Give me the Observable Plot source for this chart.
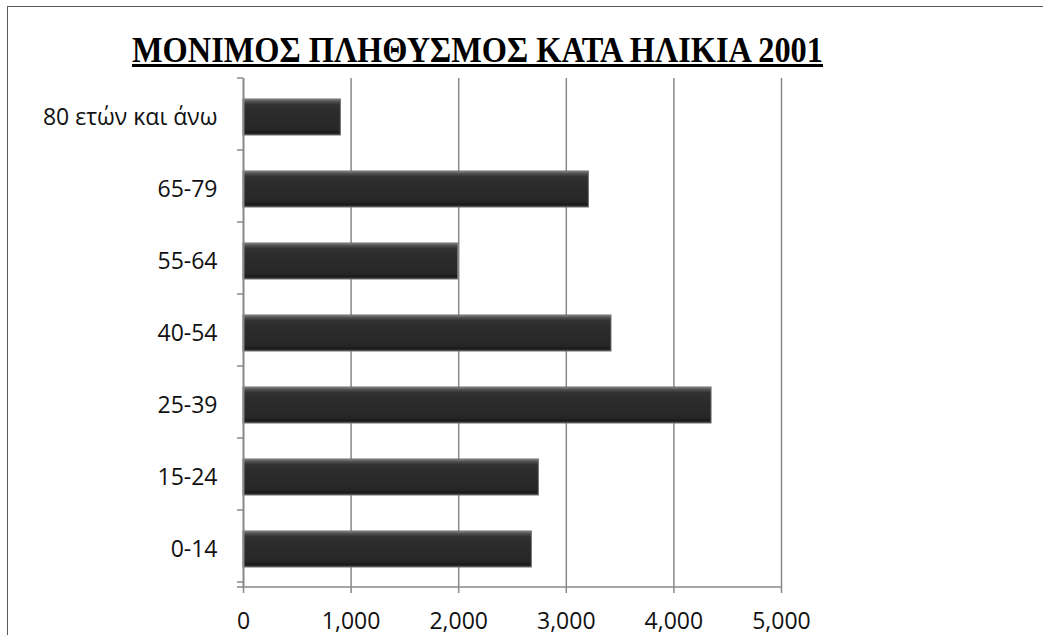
<!DOCTYPE html>
<html><head><meta charset="utf-8">
<script src="https://cdn.jsdelivr.net/npm/d3@7"></script>
<script src="https://cdn.jsdelivr.net/npm/@observablehq/plot@0.6"></script>
<style>
body{margin:0;background:#fff;}
#wrap{position:relative;width:1043px;height:635px;overflow:hidden;background:#fff;}
#border{position:absolute;left:7px;top:6px;width:1100px;height:700px;border:1px solid #5a5a5a;}
#title{position:absolute;left:132px;top:32px;white-space:nowrap;font-family:"Liberation Serif","Times New Roman",serif;font-weight:bold;font-size:36px;line-height:36px;transform-origin:0 0;color:#000;}
#uline{position:absolute;left:132px;top:64px;width:691px;height:3px;background:#000;}
#chart{position:absolute;left:0;top:70px;}
</style></head><body>
<div id="wrap"><div id="border"></div><div id="title"></div><div id="uline"></div><div id="chart"></div></div>
<script>
const titleText = "ΜΟΝΙΜΟΣ ΠΛΗΘΥΣΜΟΣ ΚΑΤΑ ΗΛΙΚΙΑ 2001";
const categories = ["0-14", "15-24", "25-39", "40-54", "55-64", "65-79", "80 ετών και άνω"];
const values = [2680, 2745, 4350, 3420, 1995, 3210, 905];
const xTicks = [0, 1000, 2000, 3000, 4000, 5000];

const data = categories.map((c, i) => ({category: c, value: values[i]}));

const t = document.getElementById("title");
t.textContent = titleText;
const w = t.getBoundingClientRect().width;
t.style.transform = `scaleX(${691 / w})`;

const chart = Plot.plot({
  width: 1043, height: 565,
  marginTop: 8, marginBottom: 48, marginLeft: 243, marginRight: 262,
  style: {fontFamily: "'Open Sans', sans-serif", fontSize: "23px", color: "#111", background: "transparent"},
  x: {domain: [0, 5000]},
  y: {domain: categories.slice().reverse(), paddingInner: 0.5, paddingOuter: 0.25},
  marks: [
    Plot.gridX(xTicks.slice(1), {stroke: "#888", strokeOpacity: 1, strokeWidth: 1.5}),
    Plot.barX(data, {x: "value", y: "category", fill: "url(#barBase)", stroke: "#707070", strokeWidth: 1, ariaLabel: "bars"}),
    Plot.ruleX([0], {stroke: "#888", strokeWidth: 2}),
    Plot.axisX(xTicks, {anchor: "bottom", tickSize: 6, tickPadding: 19, tickFormat: d3.format(","), stroke: "#888", strokeWidth: 1.5, label: null}),
    Plot.axisY({anchor: "left", tickSize: 0, tickPadding: 26, label: null})
  ]
});

const svg = d3.select(chart);
const defs = svg.insert("defs", ":first-child");
const g = defs.append("linearGradient").attr("id", "barBase").attr("x1", 0).attr("y1", 0).attr("x2", 0).attr("y2", 1);
[[0, "#858585"], [0.07, "#505050"], [0.16, "#313131"], [0.5, "#2a2a2a"], [0.84, "#272727"], [0.93, "#1b1b1b"], [1, "#3c3c3c"]]
  .forEach(([o, c]) => g.append("stop").attr("offset", o).attr("stop-color", c));
const f = defs.append("filter").attr("id", "shadow").attr("x", "-5%").attr("y", "-30%").attr("width", "115%").attr("height", "190%");
f.append("feDropShadow").attr("dx", 2).attr("dy", 4).attr("stdDeviation", 2.5).attr("flood-color", "#000").attr("flood-opacity", 0.3);
svg.select('g[aria-label="bars"]').attr("filter", "url(#shadow)");

// category-boundary ticks and bottom axis line (Excel style)
const ys = chart.scale("y"), xs = chart.scale("x");
const y0 = Math.min(...ys.range), y1 = Math.max(...ys.range);
const xa = xs.apply(0), xb = xs.apply(5000);
const ag = svg.append("g").attr("stroke", "#888").attr("stroke-width", 1.5);
d3.range(categories.length + 1).forEach(k => {
  const yy = y0 + k * ys.step;
  ag.append("line").attr("x1", xa - 6).attr("x2", xa).attr("y1", yy).attr("y2", yy);
});
ag.append("line").attr("x1", xa - 6).attr("x2", xb).attr("y1", y1).attr("y2", y1);

document.getElementById("chart").appendChild(chart);
</script>
</body></html>
